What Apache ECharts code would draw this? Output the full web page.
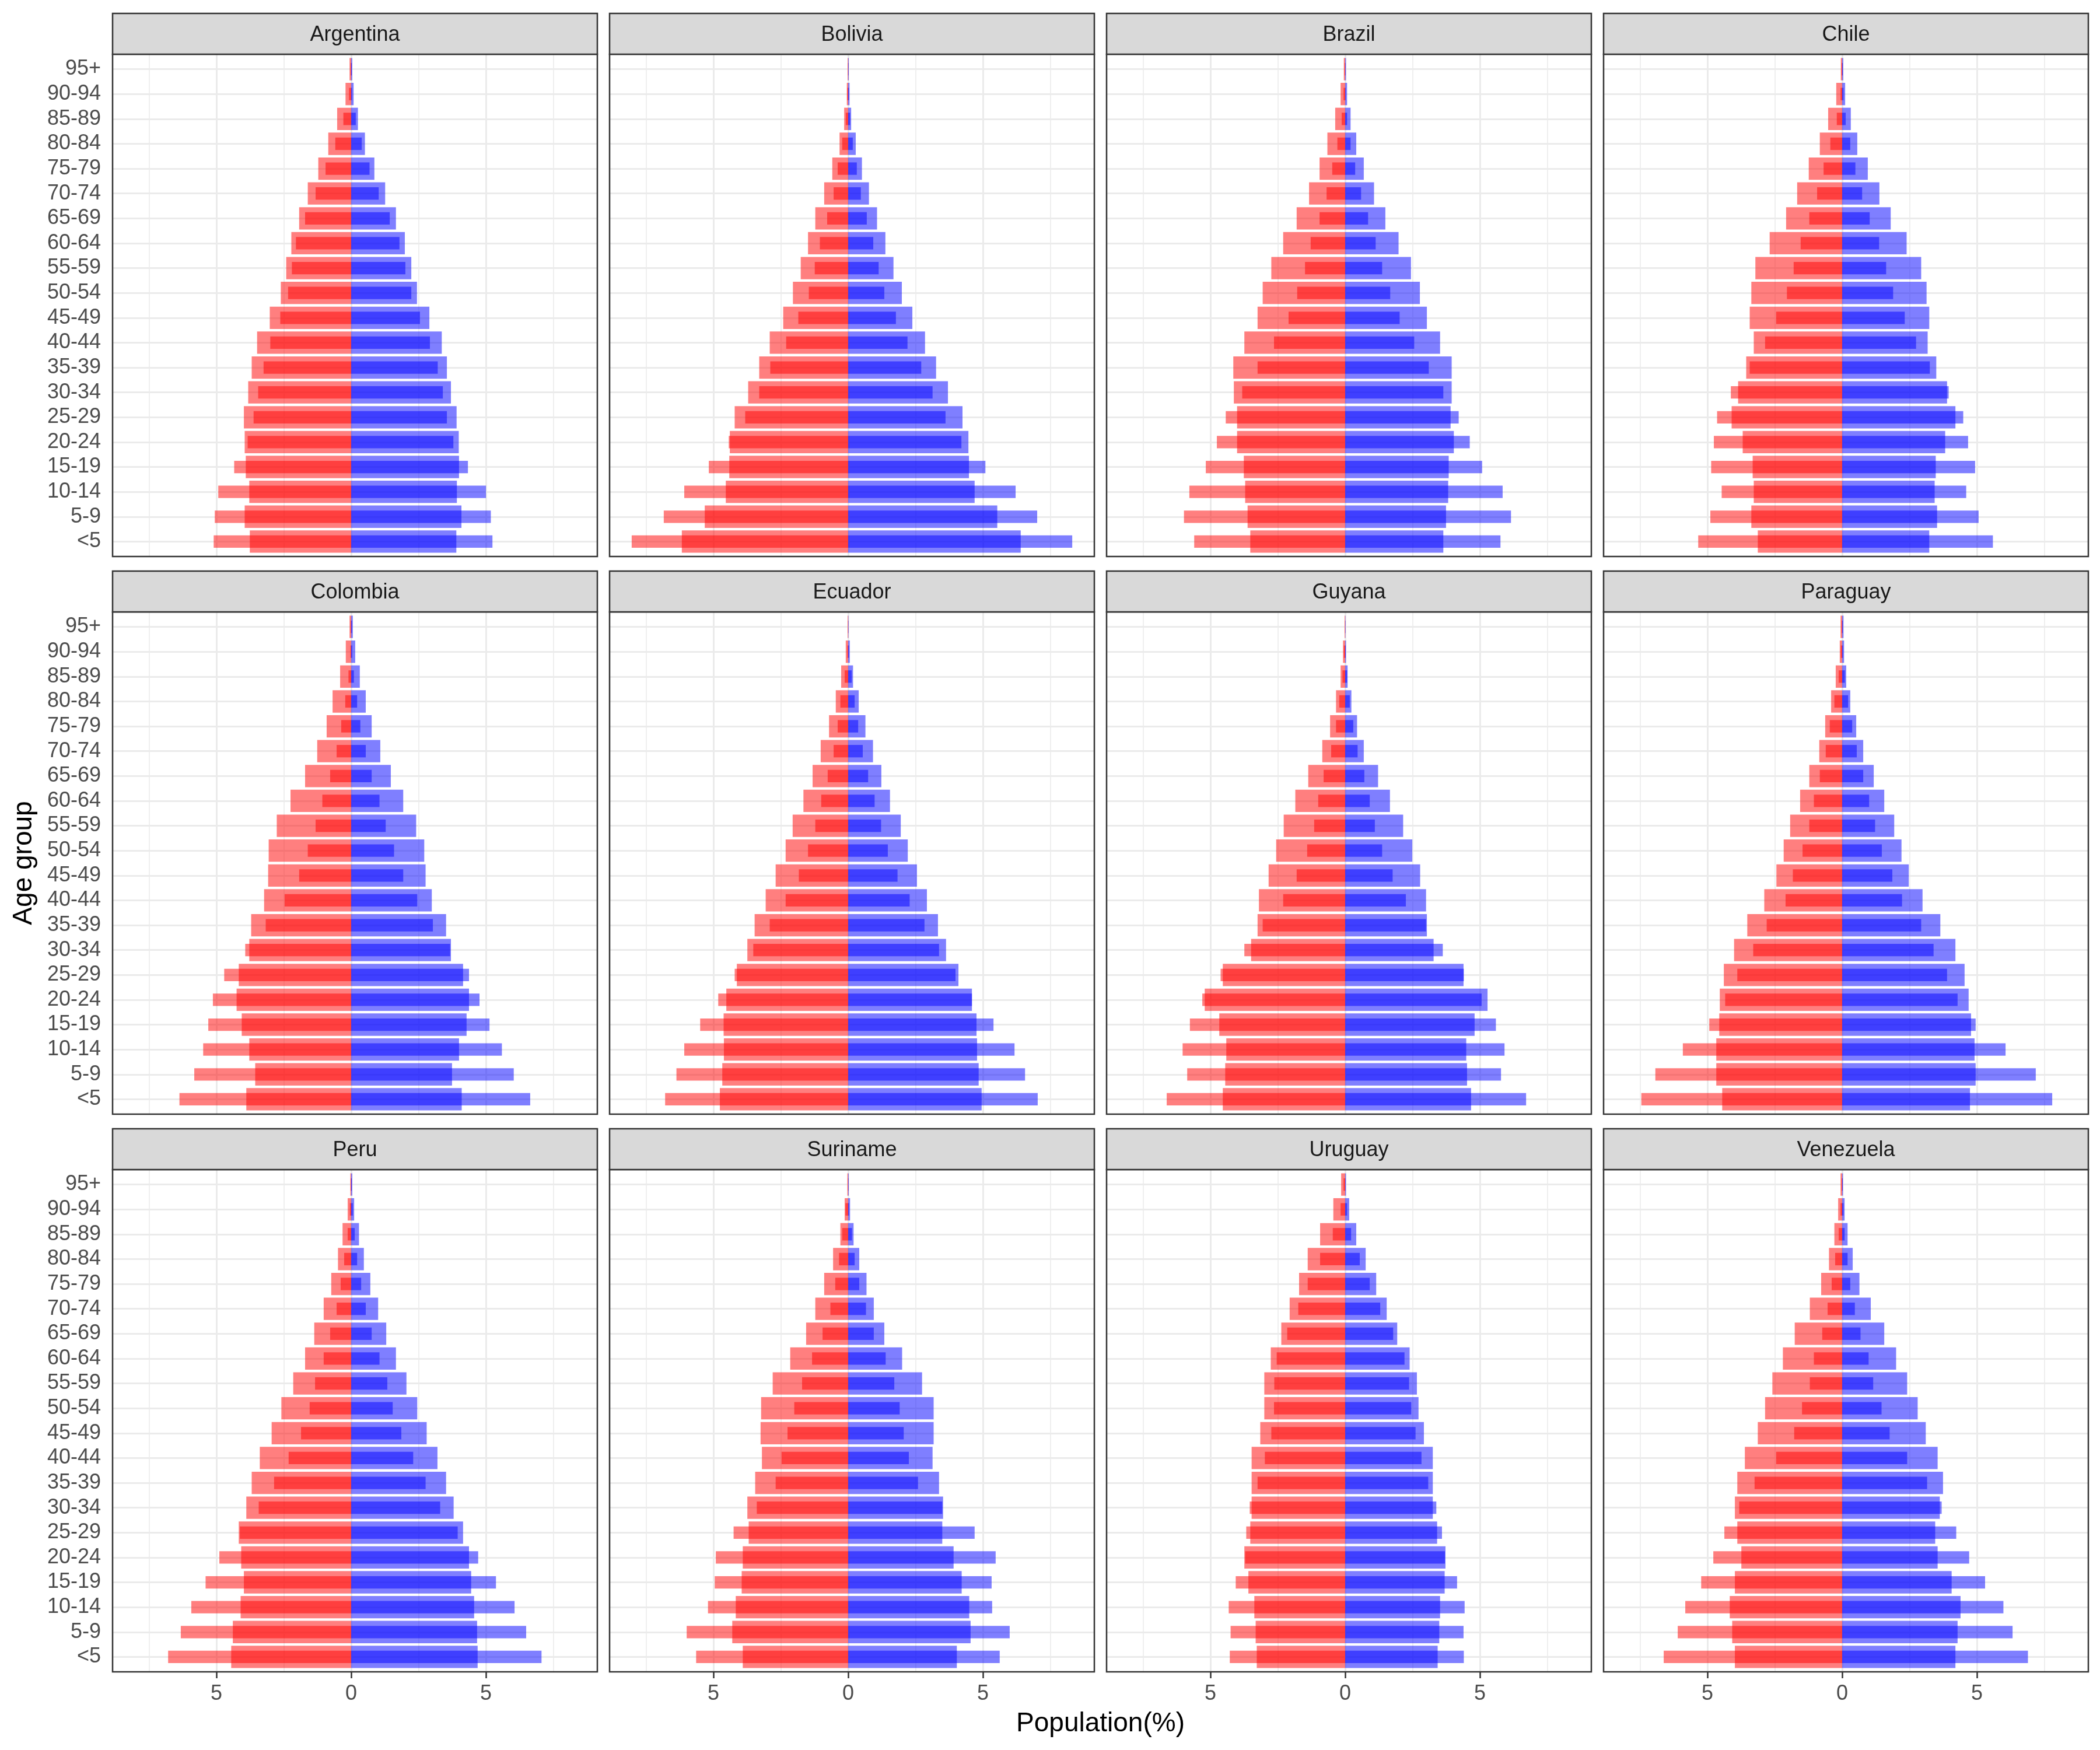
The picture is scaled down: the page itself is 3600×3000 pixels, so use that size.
<!DOCTYPE html>
<html>
<head>
<meta charset="utf-8">
<script src="https://cdn.jsdelivr.net/npm/echarts@6/dist/echarts.min.js"></script>
<style>
html,body{margin:0;padding:0;background:#ffffff;}
#chart{width:3600px;height:3000px;}
</style>
</head>
<body>
<div id="chart"></div>
<script>
// ---------- categories / labels ----------
const ageGroups = ['<5','5-9','10-14','15-19','20-24','25-29','30-34','35-39','40-44','45-49','50-54','55-59','60-64','65-69','70-74','75-79','80-84','85-89','90-94','95+'];
const countries = ['Argentina','Bolivia','Brazil','Chile','Colombia','Ecuador','Guyana','Paraguay','Peru','Suriname','Uruguay','Venezuela'];
const xTickValues = [-5, 0, 5];
const xMinorGridValues = [-7.5, -2.5, 2.5, 7.5];
const xTitle = 'Population(%)';
const yTitle = 'Age group';

// ---------- data (percent, listed from <5 up to 95+) ----------
// "Wide" = wide bars, "Narrow" = narrow bars; Left = red side, Right = blue side
const argentinaWideLeft   = [3.76,3.95,3.78,3.91,3.95,3.98,3.82,3.69,3.49,3.02,2.61,2.41,2.22,1.93,1.61,1.22,0.85,0.52,0.21,0.06];
const argentinaWideRight  = [3.90,4.09,3.92,4.00,3.99,3.91,3.70,3.55,3.36,2.90,2.44,2.23,1.99,1.66,1.26,0.86,0.51,0.25,0.09,0.04];
const argentinaNarrowLeft = [5.10,5.06,4.93,4.34,3.84,3.62,3.45,3.25,3.00,2.63,2.34,2.20,2.05,1.71,1.32,0.95,0.59,0.29,0.08,0.02];
const argentinaNarrowRight= [5.24,5.18,5.00,4.33,3.79,3.55,3.40,3.21,2.92,2.55,2.23,2.01,1.79,1.43,1.02,0.68,0.39,0.17,0.03,0.02];

const boliviaWideLeft   = [6.17,5.32,4.54,4.41,4.39,4.21,3.71,3.30,2.91,2.41,2.05,1.76,1.49,1.22,0.89,0.59,0.32,0.15,0.05,0.02];
const boliviaWideRight  = [6.40,5.53,4.69,4.48,4.46,4.24,3.70,3.26,2.85,2.38,1.99,1.68,1.38,1.07,0.77,0.51,0.28,0.11,0.05,0.02];
const boliviaNarrowLeft = [8.03,6.84,6.08,5.17,4.43,3.82,3.30,2.89,2.30,1.85,1.46,1.24,1.05,0.78,0.54,0.39,0.22,0.09,0.03,0.01];
const boliviaNarrowRight= [8.31,7.01,6.21,5.09,4.20,3.61,3.13,2.71,2.20,1.77,1.34,1.13,0.93,0.69,0.47,0.32,0.17,0.07,0.03,0.01];

const brazilWideLeft   = [3.52,3.62,3.71,3.76,4.01,4.01,4.13,4.15,3.74,3.25,3.06,2.74,2.30,1.80,1.34,0.95,0.66,0.37,0.17,0.05];
const brazilWideRight  = [3.64,3.74,3.82,3.84,4.03,3.91,3.95,3.95,3.52,3.03,2.77,2.44,1.98,1.49,1.07,0.69,0.41,0.20,0.07,0.03];
const brazilNarrowLeft = [5.60,5.98,5.78,5.17,4.76,4.43,3.82,3.25,2.64,2.10,1.78,1.49,1.28,0.95,0.69,0.48,0.29,0.13,0.06,0.02];
const brazilNarrowRight= [5.76,6.15,5.84,5.08,4.62,4.21,3.64,3.10,2.56,2.02,1.67,1.37,1.13,0.85,0.59,0.37,0.20,0.07,0.02,0.01];

const chileWideLeft   = [3.13,3.37,3.28,3.32,3.69,4.10,3.86,3.56,3.28,3.43,3.37,3.22,2.69,2.08,1.67,1.24,0.83,0.52,0.22,0.05];
const chileWideRight  = [3.23,3.52,3.43,3.47,3.82,4.20,3.89,3.49,3.17,3.23,3.13,2.93,2.39,1.80,1.38,0.95,0.56,0.32,0.11,0.04];
const chileNarrowLeft = [5.34,4.89,4.47,4.86,4.76,4.64,4.13,3.43,2.86,2.45,2.05,1.80,1.54,1.22,0.93,0.69,0.44,0.20,0.06,0.02];
const chileNarrowRight= [5.59,5.06,4.60,4.93,4.67,4.49,3.95,3.25,2.74,2.32,1.89,1.63,1.37,1.02,0.74,0.49,0.30,0.13,0.05,0.02];

const colombiaWideLeft   = [3.89,3.56,3.78,4.06,4.25,4.17,3.78,3.71,3.23,3.08,3.06,2.76,2.25,1.71,1.26,0.91,0.69,0.41,0.20,0.06];
const colombiaWideRight  = [4.10,3.74,4.00,4.28,4.37,4.15,3.70,3.52,2.99,2.76,2.71,2.41,1.93,1.47,1.08,0.76,0.54,0.32,0.15,0.06];
const colombiaNarrowLeft = [6.37,5.82,5.49,5.30,5.13,4.71,3.93,3.17,2.47,1.93,1.61,1.32,1.07,0.78,0.54,0.37,0.22,0.10,0.03,0.02];
const colombiaNarrowRight= [6.64,6.03,5.59,5.13,4.76,4.37,3.67,3.03,2.45,1.93,1.59,1.28,1.05,0.76,0.54,0.34,0.22,0.10,0.04,0.03];

const ecuadorWideLeft   = [4.76,4.67,4.61,4.62,4.52,4.13,3.74,3.47,3.06,2.69,2.32,2.06,1.66,1.32,1.02,0.71,0.46,0.26,0.09,0.02];
const ecuadorWideRight  = [4.95,4.84,4.78,4.76,4.59,4.09,3.63,3.33,2.92,2.55,2.21,1.95,1.55,1.23,0.92,0.64,0.39,0.18,0.06,0.01];
const ecuadorNarrowLeft = [6.79,6.37,6.08,5.49,4.82,4.21,3.52,2.91,2.32,1.83,1.49,1.22,1.00,0.76,0.54,0.39,0.29,0.13,0.03,0.01];
const ecuadorNarrowRight= [7.03,6.56,6.17,5.39,4.59,3.98,3.37,2.83,2.28,1.83,1.47,1.22,0.98,0.74,0.54,0.37,0.24,0.13,0.03,0.01];

const guyanaWideLeft   = [4.54,4.45,4.41,4.67,5.21,4.54,3.49,3.25,3.20,2.84,2.56,2.28,1.85,1.37,0.85,0.56,0.34,0.17,0.08,0.02];
const guyanaWideRight  = [4.67,4.52,4.49,4.80,5.28,4.39,3.28,3.03,3.00,2.78,2.49,2.15,1.66,1.22,0.69,0.44,0.23,0.09,0.03,0.01];
const guyanaNarrowLeft = [6.62,5.86,6.03,5.76,5.30,4.62,3.74,3.06,2.30,1.80,1.41,1.15,1.00,0.80,0.52,0.34,0.22,0.10,0.05,0.01];
const guyanaNarrowRight= [6.71,5.78,5.91,5.59,5.06,4.40,3.62,3.00,2.25,1.76,1.37,1.10,0.91,0.71,0.46,0.30,0.17,0.07,0.02,0.01];

const paraguayWideLeft   = [4.45,4.67,4.67,4.56,4.54,4.39,4.01,3.52,2.89,2.44,2.17,1.93,1.56,1.22,0.85,0.63,0.41,0.24,0.09,0.06];
const paraguayWideRight  = [4.74,4.95,4.91,4.78,4.69,4.54,4.20,3.64,2.98,2.47,2.20,1.93,1.56,1.17,0.78,0.52,0.30,0.15,0.07,0.05];
const paraguayNarrowLeft = [7.45,6.93,5.91,4.93,4.34,3.89,3.30,2.80,2.10,1.83,1.47,1.22,1.05,0.83,0.61,0.46,0.29,0.13,0.05,0.02];
const paraguayNarrowRight= [7.79,7.18,6.06,4.95,4.28,3.89,3.39,2.93,2.22,1.86,1.47,1.22,1.00,0.78,0.54,0.37,0.22,0.10,0.03,0.02];

const peruWideLeft   = [4.45,4.39,4.10,3.98,4.08,4.17,3.89,3.69,3.39,2.95,2.59,2.15,1.71,1.37,1.02,0.74,0.49,0.32,0.13,0.03];
const peruWideRight  = [4.69,4.67,4.56,4.45,4.37,4.15,3.80,3.52,3.20,2.80,2.45,2.05,1.66,1.30,1.00,0.71,0.47,0.29,0.11,0.04];
const peruNarrowLeft = [6.79,6.32,5.93,5.40,4.89,4.13,3.43,2.86,2.32,1.86,1.54,1.34,1.02,0.78,0.54,0.39,0.26,0.13,0.05,0.02];
const peruNarrowRight= [7.06,6.49,6.06,5.37,4.71,3.95,3.30,2.76,2.30,1.86,1.54,1.34,1.05,0.76,0.54,0.37,0.22,0.13,0.06,0.02];

const surinameWideLeft   = [3.91,4.30,4.17,3.95,3.91,3.69,3.74,3.45,3.20,3.25,3.23,2.80,2.15,1.56,1.22,0.89,0.56,0.29,0.13,0.03];
const surinameWideRight  = [4.03,4.54,4.49,4.21,3.91,3.49,3.52,3.37,3.13,3.17,3.17,2.74,2.00,1.34,0.95,0.68,0.41,0.20,0.07,0.02];
const surinameNarrowLeft = [5.64,5.99,5.20,4.95,4.91,4.25,3.39,2.69,2.47,2.25,2.00,1.71,1.34,0.95,0.66,0.48,0.34,0.22,0.10,0.01];
const surinameNarrowRight= [5.62,5.99,5.34,5.32,5.47,4.69,3.49,2.59,2.25,2.06,1.91,1.71,1.39,0.95,0.66,0.41,0.24,0.14,0.03,0.01];

const uruguayWideLeft   = [3.28,3.32,3.37,3.59,3.74,3.52,3.47,3.47,3.47,3.15,3.00,3.00,2.76,2.37,2.06,1.71,1.39,0.93,0.44,0.15];
const uruguayWideRight  = [3.43,3.49,3.52,3.69,3.72,3.41,3.25,3.25,3.25,2.92,2.72,2.66,2.39,1.93,1.54,1.15,0.76,0.41,0.15,0.03];
const uruguayNarrowLeft = [4.28,4.25,4.32,4.06,3.71,3.67,3.54,3.25,2.98,2.74,2.64,2.63,2.54,2.15,1.74,1.39,0.93,0.46,0.17,0.06];
const uruguayNarrowRight= [4.40,4.39,4.43,4.15,3.70,3.59,3.38,3.08,2.83,2.61,2.45,2.37,2.20,1.78,1.30,0.91,0.54,0.22,0.07,0.01];

const venezuelaWideLeft   = [3.98,4.08,4.17,3.98,3.74,3.89,3.98,3.89,3.61,3.13,2.86,2.59,2.20,1.76,1.20,0.78,0.49,0.29,0.15,0.06];
const venezuelaWideRight  = [4.20,4.28,4.39,4.06,3.54,3.45,3.62,3.74,3.54,3.10,2.80,2.41,2.00,1.56,1.06,0.64,0.39,0.20,0.09,0.03];
const venezuelaNarrowLeft = [6.62,6.10,5.82,5.23,4.78,4.37,3.82,3.25,2.45,1.78,1.49,1.20,1.05,0.74,0.54,0.39,0.26,0.13,0.06,0.02];
const venezuelaNarrowRight= [6.89,6.32,5.98,5.30,4.71,4.23,3.69,3.15,2.41,1.76,1.46,1.15,0.98,0.68,0.47,0.30,0.20,0.09,0.05,0.02];

const panelData = [
  [argentinaWideLeft, argentinaWideRight, argentinaNarrowLeft, argentinaNarrowRight],
  [boliviaWideLeft, boliviaWideRight, boliviaNarrowLeft, boliviaNarrowRight],
  [brazilWideLeft, brazilWideRight, brazilNarrowLeft, brazilNarrowRight],
  [chileWideLeft, chileWideRight, chileNarrowLeft, chileNarrowRight],
  [colombiaWideLeft, colombiaWideRight, colombiaNarrowLeft, colombiaNarrowRight],
  [ecuadorWideLeft, ecuadorWideRight, ecuadorNarrowLeft, ecuadorNarrowRight],
  [guyanaWideLeft, guyanaWideRight, guyanaNarrowLeft, guyanaNarrowRight],
  [paraguayWideLeft, paraguayWideRight, paraguayNarrowLeft, paraguayNarrowRight],
  [peruWideLeft, peruWideRight, peruNarrowLeft, peruNarrowRight],
  [surinameWideLeft, surinameWideRight, surinameNarrowLeft, surinameNarrowRight],
  [uruguayWideLeft, uruguayWideRight, uruguayNarrowLeft, uruguayNarrowRight],
  [venezuelaWideLeft, venezuelaWideRight, venezuelaNarrowLeft, venezuelaNarrowRight]
];

// ---------- layout / style ----------
const FONT = '"Liberation Sans", Arial, Helvetica, sans-serif';
const NCOL = 4, NROW = 3;
const PANEL_LEFT0 = 193, PANEL_STEP_X = 852, PANEL_W = 831;
const PANEL_TOP0 = 93, PANEL_STEP_Y = 956, PANEL_H = 861;
const STRIP_H = 70;
const X_MIN = -8.85, X_MAX = 9.13;
// discrete axis expansion (0.6 of a band each side, as in the reference)
const BAND = PANEL_H / (ageGroups.length - 1 + 1.2);
const INSET = BAND * 0.1;
const RED = 'rgba(255,0,0,0.5)';
const BLUE = 'rgba(0,0,255,0.5)';
const GRID_COLOR = '#EBEBEB';
const BORDER_COLOR = '#333333';

const grids = [], xAxes = [], yAxes = [], series = [], graphics = [];

countries.forEach((name, i) => {
  const r = Math.floor(i / NCOL), c = i % NCOL;
  const left = PANEL_LEFT0 + c * PANEL_STEP_X;
  const top = PANEL_TOP0 + r * PANEL_STEP_Y;
  const bottomRow = (r === NROW - 1);
  const firstCol = (c === 0);

  const gFull = grids.length;        // full panel: vertical grid lines + x axis
  grids.push({left: left, top: top, width: PANEL_W, height: PANEL_H,
    show: true, backgroundColor: '#ffffff', borderWidth: 0, containLabel: false});
  const gBars = grids.length;        // inset grid: category axis + bars
  grids.push({left: left, top: top + INSET, width: PANEL_W, height: PANEL_H - 2 * INSET,
    show: false, containLabel: false});

  const xFull = xAxes.length;
  xAxes.push({
    type: 'value', gridIndex: gFull, min: X_MIN, max: X_MAX,
    axisLine: {show: false},
    splitLine: {show: false},
    minorSplitLine: {show: false},
    axisTick: {show: bottomRow, customValues: xTickValues, length: 11, inside: false,
      lineStyle: {color: BORDER_COLOR, width: 2.5}},
    axisLabel: {show: bottomRow, customValues: xTickValues, margin: 20,
      formatter: v => String(Math.abs(v)),
      color: '#4D4D4D', fontSize: 36, fontFamily: FONT}
  });
  const xBars = xAxes.length;
  xAxes.push({
    type: 'value', gridIndex: gBars, min: X_MIN, max: X_MAX, show: false,
    splitLine: {show: false}
  });

  const yFull = yAxes.length;
  yAxes.push({type: 'value', gridIndex: gFull, min: 0, max: 1, show: false, splitLine: {show: false}});
  const yWide = yAxes.length;
  yAxes.push({
    type: 'category', gridIndex: gBars, data: ageGroups,
    axisLine: {show: false},
    splitLine: {show: false},
    axisTick: {show: firstCol, alignWithLabel: true, length: 11,
      lineStyle: {color: BORDER_COLOR, width: 2.5}},
    axisLabel: {show: firstCol, margin: 20, color: '#4D4D4D', fontSize: 36, fontFamily: FONT, interval: 0}
  });
  const yNarrow = yAxes.length;
  yAxes.push({
    type: 'category', gridIndex: gBars, data: ageGroups, show: false
  });

  const [wideL, wideR, narrowL, narrowR] = panelData[i];

  const vLines = [];
  xMinorGridValues.forEach(v => vLines.push({xAxis: v, lineStyle: {width: 1.6, color: GRID_COLOR, type: 'solid'}}));
  xTickValues.forEach(v => vLines.push({xAxis: v, lineStyle: {width: 3, color: GRID_COLOR, type: 'solid'}}));
  const hLines = ageGroups.map(g => ({yAxis: g, lineStyle: {width: 3, color: GRID_COLOR, type: 'solid'}}));

  // host series for vertical grid lines (no data of its own)
  series.push({
    type: 'line', name: name + ' grid', xAxisIndex: xFull, yAxisIndex: yFull,
    data: [], silent: true, z: 1,
    markLine: {silent: true, z: 1, symbol: ['none', 'none'], label: {show: false},
      animation: false, data: vLines}
  });

  series.push({
    type: 'bar', name: name + ' wide left', xAxisIndex: xBars, yAxisIndex: yWide,
    stack: 'wide' + i, barWidth: '90%',
    data: wideL.map(v => -v),
    itemStyle: {color: RED},
    silent: true, z: 2,
    markLine: {silent: true, z: 1, symbol: ['none', 'none'], label: {show: false},
      animation: false, data: hLines}
  });
  series.push({
    type: 'bar', name: name + ' wide right', xAxisIndex: xBars, yAxisIndex: yWide,
    stack: 'wide' + i, barWidth: '90%',
    data: wideR,
    itemStyle: {color: BLUE},
    silent: true, z: 2
  });
  series.push({
    type: 'bar', name: name + ' narrow left', xAxisIndex: xBars, yAxisIndex: yNarrow,
    stack: 'narrow' + i, barWidth: '50%',
    data: narrowL.map(v => -v),
    itemStyle: {color: RED},
    silent: true, z: 3
  });
  series.push({
    type: 'bar', name: name + ' narrow right', xAxisIndex: xBars, yAxisIndex: yNarrow,
    stack: 'narrow' + i, barWidth: '50%',
    data: narrowR,
    itemStyle: {color: BLUE},
    silent: true, z: 3
  });

  // panel border (drawn on top)
  graphics.push({
    type: 'rect', z: 100, silent: true,
    shape: {x: left, y: top, width: PANEL_W, height: PANEL_H},
    style: {fill: 'none', stroke: BORDER_COLOR, lineWidth: 2.5}
  });
  // facet strip
  graphics.push({
    type: 'rect', z: 100, silent: true,
    shape: {x: left, y: top - STRIP_H, width: PANEL_W, height: STRIP_H},
    style: {fill: '#D9D9D9', stroke: BORDER_COLOR, lineWidth: 2.5}
  });
  graphics.push({
    type: 'text', z: 101, silent: true,
    x: left + PANEL_W / 2, y: top - STRIP_H / 2 + 2,
    style: {text: name, fill: '#1A1A1A', font: '36px ' + FONT,
      align: 'center', verticalAlign: 'middle', textAlign: 'center', textVerticalAlign: 'middle'}
  });
});

// axis titles
graphics.push({
  type: 'text', z: 101, silent: true,
  x: PANEL_LEFT0 + ((NCOL - 1) * PANEL_STEP_X + PANEL_W) / 2, y: 2955,
  style: {text: xTitle, fill: '#000000', font: '46px ' + FONT,
    align: 'center', verticalAlign: 'middle', textAlign: 'center', textVerticalAlign: 'middle'}
});
graphics.push({
  type: 'text', z: 101, silent: true,
  x: 41, y: (PANEL_TOP0 + (NROW - 1) * PANEL_STEP_Y + PANEL_H + PANEL_TOP0) / 2,
  rotation: Math.PI / 2,
  style: {text: yTitle, fill: '#000000', font: '46px ' + FONT,
    align: 'center', verticalAlign: 'middle', textAlign: 'center', textVerticalAlign: 'middle'}
});

const chart = echarts.init(document.getElementById('chart'), null, {renderer: 'canvas', width: 3600, height: 3000});
chart.setOption({
  backgroundColor: '#ffffff',
  animation: false,
  textStyle: {fontFamily: FONT},
  grid: grids,
  xAxis: xAxes,
  yAxis: yAxes,
  series: series,
  graphic: {elements: graphics}
});
</script>
</body>
</html>
